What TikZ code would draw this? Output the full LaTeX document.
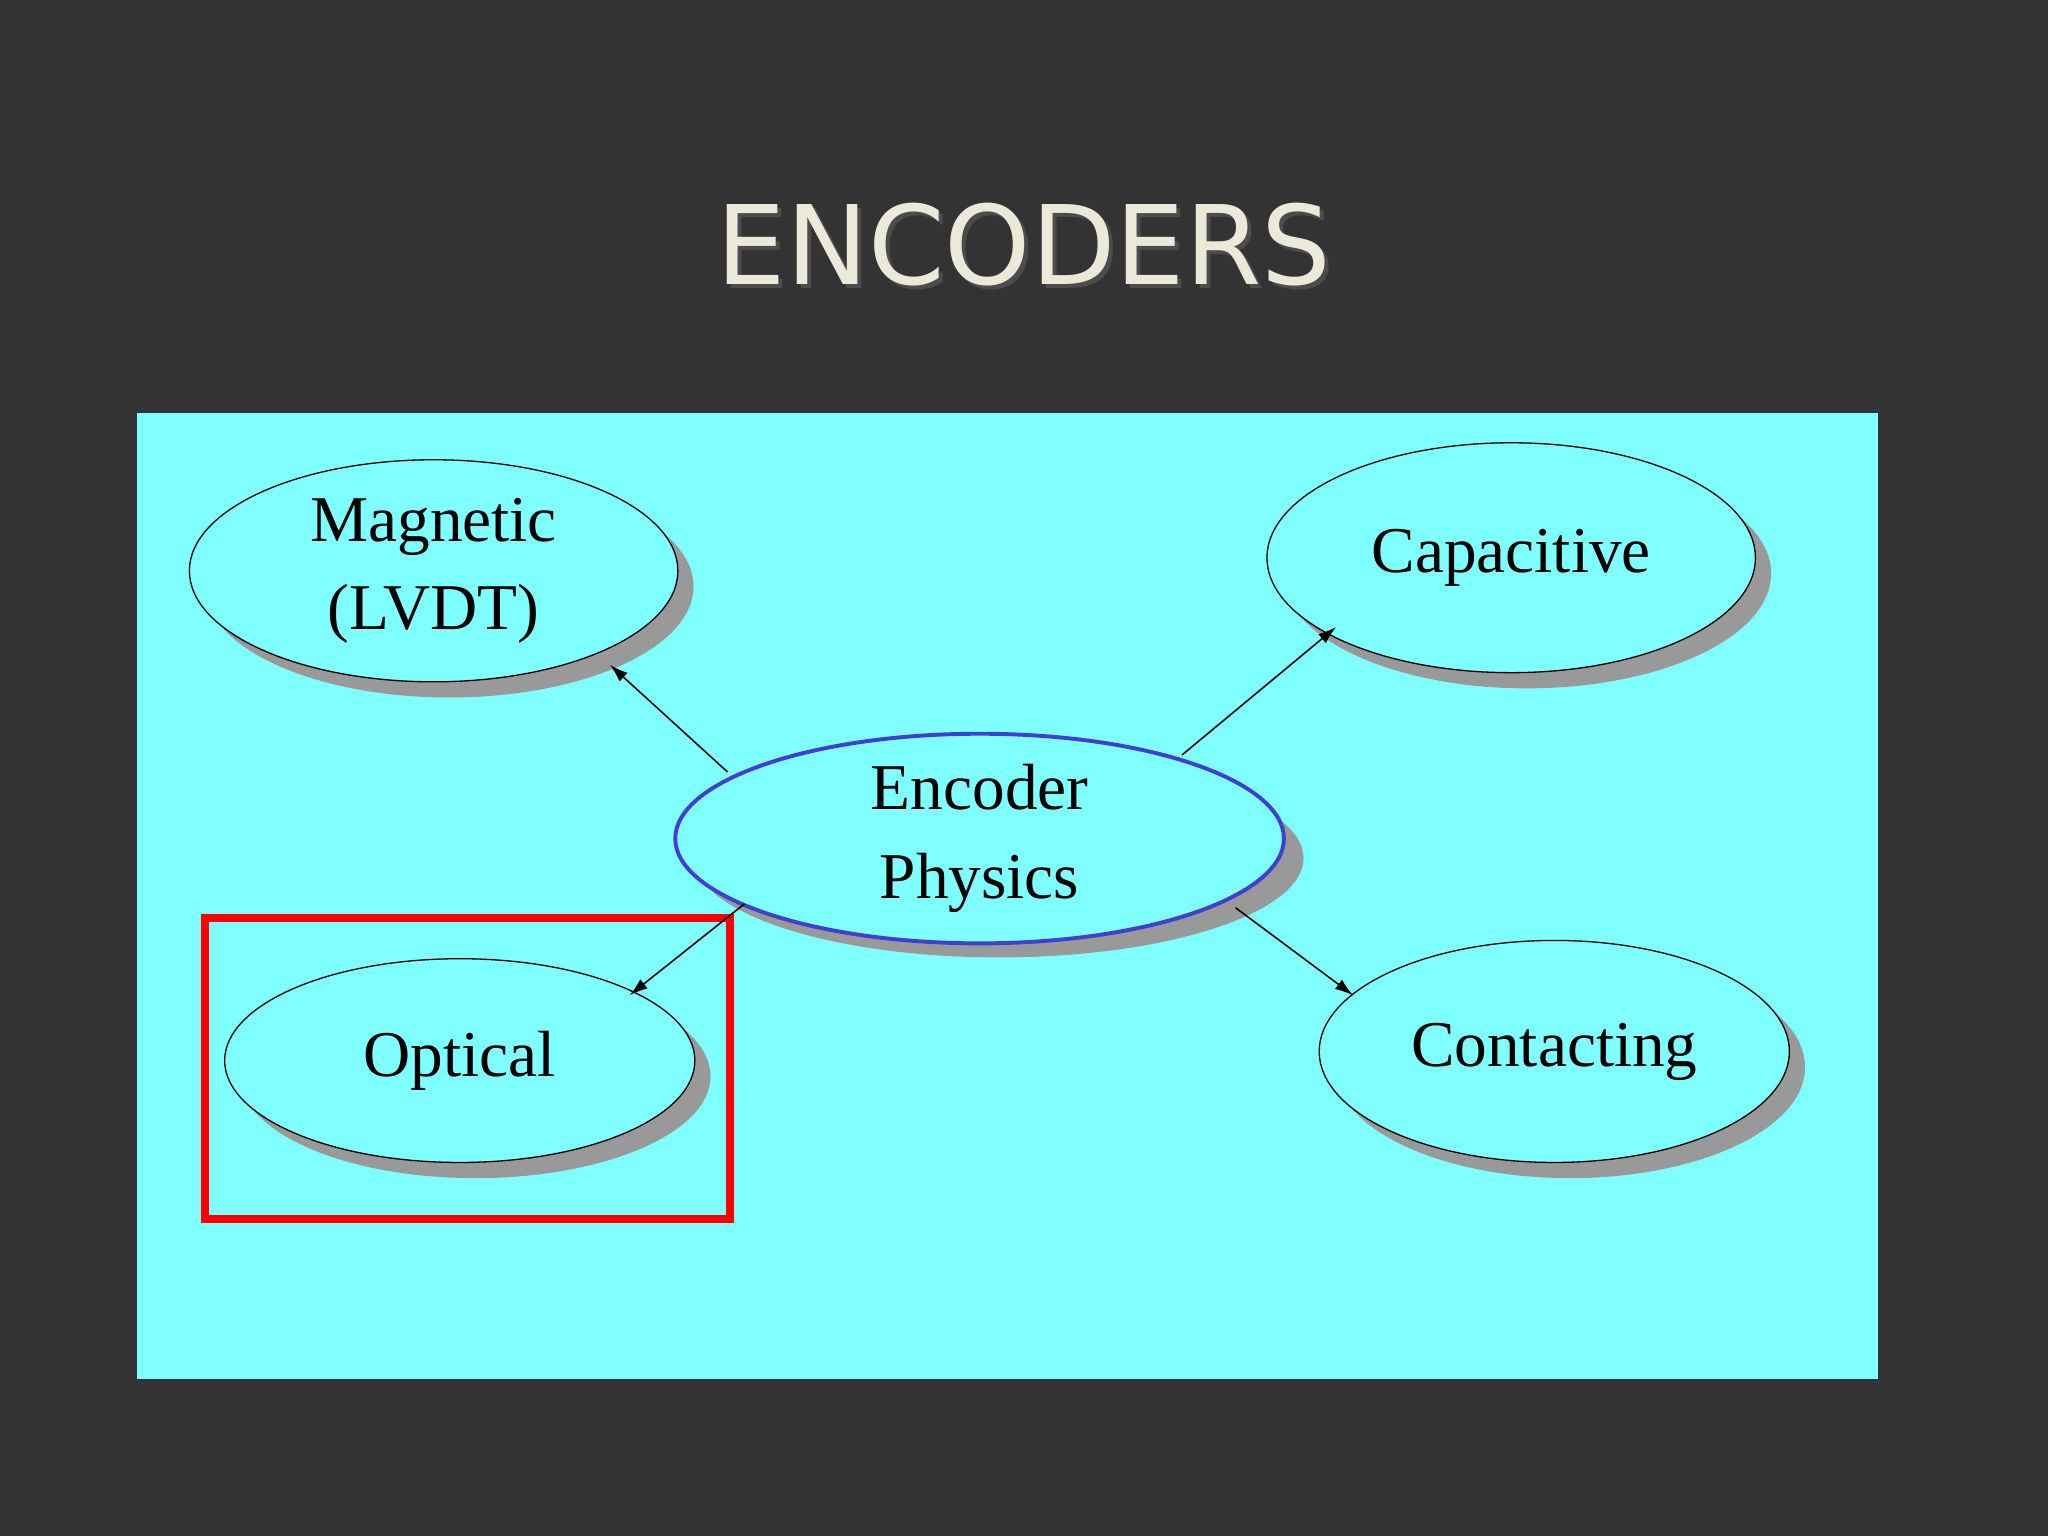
\documentclass[tikz,border=0pt]{standalone}
\usepackage{fontspec}
\setmainfont{Liberation Serif}
\newfontfamily\titlefont{DejaVu Sans}
\usetikzlibrary{shapes.geometric,arrows.meta}
\definecolor{bg}{HTML}{333333}
\definecolor{cy}{HTML}{80FFFF}
\definecolor{ttl}{HTML}{ECE9D8}
\definecolor{blu}{HTML}{4040D0}
\begin{document}
\begin{tikzpicture}[x=1pt,y=-1pt,
  oval/.style={ellipse,draw=black,fill=cy,line width=1pt,font=\fontsize{50}{68}\selectfont,align=center,inner sep=0pt},
  shad/.style={fill=gray!80},
  arr/.style={-{Latex[length=14pt,width=9pt]},line width=1.2pt}]
\fill[bg] (0,0) rectangle (1568,1176);
\node[font=\titlefont\fontsize{84}{90}\selectfont,text=black!70] at (787,190) {ENCODERS};
\node[font=\titlefont\fontsize{84}{90}\selectfont,text=ttl] (title) at (784,187) {ENCODERS};
\fill[cy] (105,316) rectangle (1438,1056);
\fill[shad] (344,449) ellipse [x radius=187,y radius=85];
\fill[shad] (1169,439) ellipse [x radius=187,y radius=88];
\fill[shad] (765,657) ellipse [x radius=233,y radius=76];
\fill[shad] (364,824) ellipse [x radius=180,y radius=78];
\fill[shad] (1202,817) ellipse [x radius=180,y radius=85];
\node[oval,minimum width=374pt,minimum height=170pt] (mag) at (332,437) {Magnetic\\(LVDT)};
\node[oval,minimum width=374pt,minimum height=176pt] (cap) at (1157,427) {Capacitive};
\node[oval,draw=blu,line width=3pt,minimum width=466pt,minimum height=152pt] (enc) at (750,642) {Encoder\\Physics};
\node[oval,minimum width=360pt,minimum height=156pt] (opt) at (352,812) {Optical};
\node[oval,minimum width=360pt,minimum height=170pt] (con) at (1190,805) {Contacting};
\draw[red,line width=6pt] (157,703) rectangle (559,933);
\coordinate (a1) at (557,591); \coordinate (b1) at (467,509);
\coordinate (a2) at (905,578); \coordinate (b2) at (1023,480);
\coordinate (a3) at (570,692); \coordinate (b3) at (482,762);
\coordinate (a4) at (946,695); \coordinate (b4) at (1036,762);
\draw[arr] (a1) -- (b1);
\draw[arr] (a2) -- (b2);
\draw[arr] (a3) -- (b3);
\draw[arr] (a4) -- (b4);
\end{tikzpicture}
\end{document}
